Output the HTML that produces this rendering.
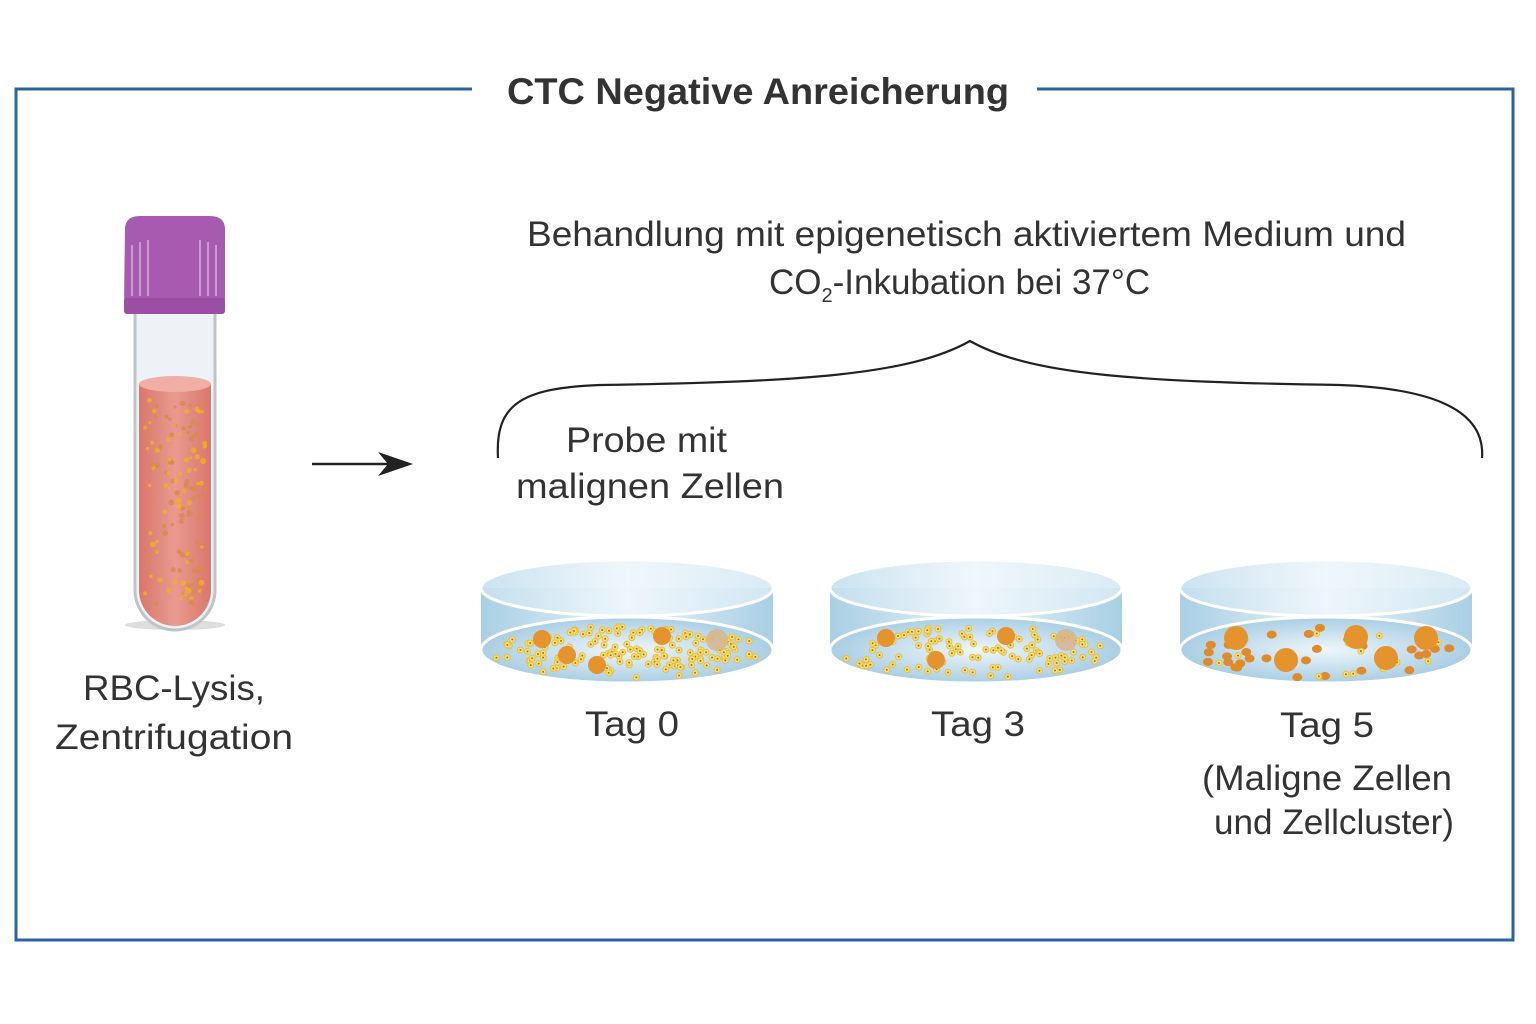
<!DOCTYPE html>
<html><head><meta charset="utf-8"><style>
html,body{margin:0;padding:0;background:#fff;}
svg{display:block;}
text{font-family:"Liberation Sans",sans-serif;fill:#333;}
</style></head><body>
<svg id="s" width="1536" height="1024" viewBox="0 0 1536 1024" xmlns="http://www.w3.org/2000/svg">
<defs>
<linearGradient id="side" x1="0" x2="1" y1="0" y2="0">
<stop offset="0" stop-color="#a9cfe4"/><stop offset="0.5" stop-color="#e8f3fa"/><stop offset="1" stop-color="#a9cfe4"/></linearGradient>
<radialGradient id="bot" cx="0.5" cy="0.5" r="0.6">
<stop offset="0" stop-color="#eef6fb"/><stop offset="1" stop-color="#9cc6df"/></radialGradient>
<linearGradient id="liq" x1="0" x2="1"><stop offset="0" stop-color="#d9776d"/><stop offset="0.5" stop-color="#e89a8e"/><stop offset="1" stop-color="#d9776d"/></linearGradient>
<linearGradient id="lid" x1="0" x2="1"><stop offset="0" stop-color="#c6e0ef"/><stop offset="0.5" stop-color="#eef6fb"/><stop offset="1" stop-color="#d6e9f4"/></linearGradient>
</defs>
<path d="M472 89 H16 V940 H1513 V89 H1037" fill="none" stroke="#2a63a0" stroke-width="3"/>
<text x="507" y="104" font-size="37" font-weight="bold" textLength="502" lengthAdjust="spacingAndGlyphs">CTC Negative Anreicherung</text>
<text x="527" y="246" font-size="35" textLength="879" lengthAdjust="spacingAndGlyphs">Behandlung mit epigenetisch aktiviertem Medium und</text>
<text x="769" y="294" font-size="35">CO<tspan font-size="20" dy="8">2</tspan><tspan dy="-8">-Inkubation bei 37°C</tspan></text>
<path d="M498 458 C495 405 520 388 600 385 C800 382 910 375 970 341 C1030 375 1140 382 1340 385 C1420 388 1486 405 1482 458" fill="none" stroke="#222" stroke-width="2.2"/>
<text x="566" y="452" font-size="35" textLength="161" lengthAdjust="spacingAndGlyphs">Probe mit</text>
<text x="516" y="498" font-size="35" textLength="268" lengthAdjust="spacingAndGlyphs">malignen Zellen</text>
<line x1="312" y1="464" x2="395" y2="464" stroke="#222" stroke-width="2.5"/>
<polygon points="413,464 378,452 388,464 378,476" fill="#222"/>
<ellipse cx="175" cy="625" rx="50" ry="5" fill="#ddd"/>
<path d="M135 310 V590 A40 40 0 0 0 215 590 V310 Z" fill="#eef2f6" stroke="#bfc4c8" stroke-width="3"/>
<path d="M139 384 V590 A36 36 0 0 0 211 590 V384 Z" fill="url(#liq)"/>
<ellipse cx="175" cy="384" rx="36" ry="8" fill="#f0aea4"/>
<g id="tubedots"></g>
<path d="M125 228 Q126 216 140 216 H210 Q224 216 225 228 V305 Q225 314 215 314 H135 Q124 314 124 305 Z" fill="#a65bb0"/>
<rect x="124" y="298" width="101" height="16" rx="3" fill="#9a4fa5"/>
<g stroke="#c89ad0" stroke-width="2"><line x1="132" y1="245" x2="132" y2="296"/><line x1="140" y1="242" x2="140" y2="296"/><line x1="148" y1="240" x2="148" y2="296"/><line x1="200" y1="240" x2="200" y2="296"/><line x1="208" y1="242" x2="208" y2="296"/><line x1="216" y1="245" x2="216" y2="296"/></g>
<text x="83" y="700" font-size="35" textLength="182" lengthAdjust="spacingAndGlyphs">RBC-Lysis,</text>
<text x="55" y="749" font-size="35" textLength="238" lengthAdjust="spacingAndGlyphs">Zentrifugation</text>
<g id="dishes"></g>
<text x="585" y="736" font-size="35" textLength="94" lengthAdjust="spacingAndGlyphs">Tag 0</text>
<text x="931" y="736" font-size="35" textLength="94" lengthAdjust="spacingAndGlyphs">Tag 3</text>
<text x="1280" y="737" font-size="35" textLength="94" lengthAdjust="spacingAndGlyphs">Tag 5</text>
<text x="1202" y="790" font-size="35" textLength="250" lengthAdjust="spacingAndGlyphs">(Maligne Zellen</text>
<text x="1214" y="834" font-size="35" textLength="240" lengthAdjust="spacingAndGlyphs">und Zellcluster)</text>
</svg>
<script>
var seed=7;function r(){seed=(seed*16807)%2147483647;return seed/2147483647;}
var NS="http://www.w3.org/2000/svg";
function el(p,t,a){var e=document.createElementNS(NS,t);for(var k in a)e.setAttribute(k,a[k]);p.appendChild(e);return e;}
var td=document.getElementById('tubedots');
for(var i=0;i<140;i++){var x=145+r()*60,y=400+r()*210;el(td,'circle',{cx:x,cy:y,r:1.5+r()*1.5,fill:r()<0.5?'#f0b020':'#d88a50',opacity:0.8});}
var dg=document.getElementById('dishes');
[[627,0],[976,1],[1326,2]].forEach(function(d){
 var cx=d[0],t=d[1],g=el(dg,'g',{});
 el(g,'path',{d:'M'+(cx-146)+' 588 V650 A146 33 0 0 0 '+(cx+146)+' 650 V588 Z',fill:'url(#side)'});
 el(g,'ellipse',{cx:cx,cy:650,rx:146,ry:33,fill:'url(#bot)',stroke:'#fff','stroke-width':3});
 var n=t==2?45:(t==1?110:160);
 for(var i=0;i<n;i++){var a=r()*2*Math.PI,rr=Math.sqrt(r());var x=cx+Math.cos(a)*rr*135,y=652+Math.sin(a)*rr*26;
  if(t==2&&r()<0.6){el(g,'ellipse',{cx:x,cy:y,rx:5,ry:4,fill:'#e08a2a'});}
  else{el(g,'circle',{cx:x,cy:y,r:3,fill:'#f5e27a',stroke:'#e8c040','stroke-width':1});el(g,'circle',{cx:x,cy:y,r:1,fill:'#b07020'});}}
 var cl=t==0?[[-85,639],[35,636],[-60,655],[-30,665]]:t==1?[[-90,638],[30,636],[-40,660]]:[[-90,638],[30,637],[100,638],[-40,660],[60,658]];
 cl.forEach(function(c){el(g,'circle',{cx:cx+c[0],cy:c[1],r:t==2?12:9,fill:'#e5932c'});});
 if(t<2)el(g,'circle',{cx:cx+90,cy:640,r:11,fill:'#d8b38a',opacity:0.8});
 el(g,'path',{d:'M'+(cx-146)+' 588 A146 28 0 0 0 '+(cx+146)+' 588 A146 28 0 0 0 '+(cx-146)+' 588 Z',fill:'url(#lid)',opacity:0.9});
 el(g,'ellipse',{cx:cx,cy:588,rx:146,ry:28,fill:'none',stroke:'#fff','stroke-width':3});
});
</script>
</body></html>
